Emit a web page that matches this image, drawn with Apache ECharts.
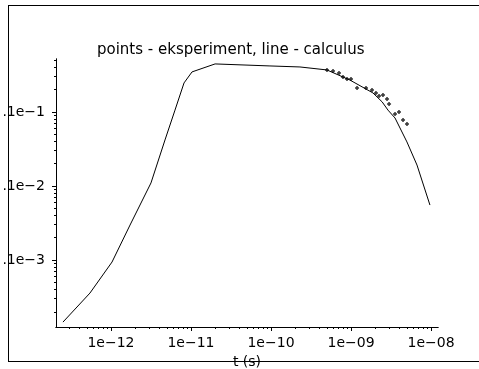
<!DOCTYPE html>
<html>
<head>
<meta charset="utf-8">
<script src="https://cdn.jsdelivr.net/npm/echarts@6/dist/echarts.min.js"></script>
<style>
  html, body { margin: 0; padding: 0; background: #fff; }
  #chart { width: 479px; height: 369px; }
</style>
</head>
<body>
<div id="chart"></div>
<script>
// Calculated curve: time (s) and value
const curveT = [2.51e-13, 5.46e-13, 1.03e-12, 1.73e-12, 3.16e-12, 4.73e-12, 6.31e-12, 8.18e-12,
  1.03e-11, 2.0e-11, 9.7e-11, 2.30e-10, 5.0e-10, 9.7e-10, 1.88e-9, 2.45e-9, 2.90e-9, 3.55e-9,
  5.0e-9, 6.68e-9, 9.7e-9];
const curveY = [1.45e-5, 3.58e-5, 9.4e-5, 2.97e-4, 1.10e-3, 4.19e-3, 1.06e-2, 2.47e-2,
  3.48e-2, 4.46e-2, 4.19e-2, 4.06e-2, 3.70e-2, 2.70e-2, 1.81e-2, 1.37e-2, 1.06e-2, 8.3e-3,
  3.94e-3, 1.92e-3, 5.53e-4];

// Measured points
const expT = [5.01e-10, 5.96e-10, 7.08e-10, 7.94e-10, 8.91e-10, 1.0e-9, 1.19e-9, 1.54e-9,
  1.83e-9, 2.05e-9, 2.24e-9, 2.51e-9, 2.82e-9, 2.99e-9, 3.55e-9, 3.98e-9, 4.47e-9, 5.01e-9];
const expY = [3.70e-2, 3.58e-2, 3.37e-2, 2.97e-2, 2.79e-2, 2.79e-2, 2.11e-2, 2.11e-2,
  1.98e-2, 1.81e-2, 1.64e-2, 1.70e-2, 1.50e-2, 1.28e-2, 9.4e-3, 1.0e-2, 7.8e-3, 6.9e-3];

// Axis ranges and decade ticks
const xRange = [2.054e-13, 1.223e-8];
const yRange = [1.245e-5, 5.2e-2];
const xMajor = [1e-12, 1e-11, 1e-10, 1e-9, 1e-8];
const yMajor = [1e-2, 1e-3, 1e-4];
const xLabels = ['1e\u221212', '1e\u221211', '1e\u221210', '1e\u221209', '1e\u221208'];
const yLabels = ['.1e\u22121', '.1e\u22122', '.1e\u22123'];
const titleText = 'points - eksperiment, line - calculus';
const xName = 't (s)';

function minorValues(range, k0, k1) {
  const out = [];
  for (let k = k0; k <= k1; k++) {
    for (let m = 2; m <= 9; m++) {
      const v = m * Math.pow(10, k);
      if (v >= range[0] && v <= range[1]) out.push(v);
    }
  }
  return out;
}
const xMinor = minorValues(xRange, -13, -8);
const yMinor = minorValues(yRange, -5, -2);

const FONT = 'DejaVu Sans';
const labelText = (vals, labels) => (v) => {
  const e = Math.round(Math.log10(v));
  const i = vals.findIndex(t => Math.round(Math.log10(t)) === e);
  return i >= 0 ? labels[i] : '';
};

const chart = echarts.init(document.getElementById('chart'), null, { renderer: 'canvas' });

const baseAxis = {
  type: 'log',
  logBase: 10,
  splitLine: { show: false },
  minorTick: { show: false },
  minorSplitLine: { show: false }
};

chart.setOption({
  animation: false,
  backgroundColor: '#fff',
  title: {
    text: titleText,
    left: 97,
    top: 43,
    padding: 0,
    textStyle: { fontFamily: FONT, fontSize: 15, fontWeight: 'normal', color: '#000' }
  },
  grid: { left: 56, right: 41, top: 59, bottom: 42, containLabel: false, outerBoundsMode: 'none' },
  xAxis: [
    Object.assign({}, baseAxis, {
      min: xRange[0], max: xRange[1],
      position: 'bottom',
      name: xName,
      nameLocation: 'middle',
      nameGap: 25,
      nameTextStyle: { fontFamily: FONT, fontSize: 14, color: '#000' },
      axisLine: { show: true, lineStyle: { color: '#000', width: 1 } },
      axisTick: { show: true, length: 4, customValues: xMajor, lineStyle: { color: '#000' } },
      axisLabel: {
        show: true, customValues: xMajor, margin: 9,
        fontFamily: FONT, fontSize: 14, color: '#000',
        formatter: labelText(xMajor, xLabels)
      }
    }),
    Object.assign({}, baseAxis, {
      min: xRange[0], max: xRange[1],
      position: 'bottom',
      axisLine: { show: true, lineStyle: { color: '#000', width: 1 } },
      axisTick: { show: true, length: 2, customValues: xMinor, lineStyle: { color: '#000' } },
      axisLabel: { show: false }
    })
  ],
  yAxis: [
    Object.assign({}, baseAxis, {
      min: yRange[0], max: yRange[1],
      position: 'left',
      axisLine: { show: true, lineStyle: { color: '#000', width: 1 } },
      axisTick: { show: true, length: 4, customValues: yMajor, lineStyle: { color: '#000' } },
      axisLabel: {
        show: true, customValues: yMajor, margin: 11,
        fontFamily: FONT, fontSize: 14, color: '#000',
        formatter: labelText(yMajor, yLabels)
      }
    }),
    Object.assign({}, baseAxis, {
      min: yRange[0], max: yRange[1],
      position: 'left',
      axisLine: { show: true, lineStyle: { color: '#000', width: 1 } },
      axisTick: { show: true, length: 2, customValues: yMinor, lineStyle: { color: '#000' } },
      axisLabel: { show: false }
    })
  ],
  series: [
    {
      name: 'calculus',
      type: 'line',
      xAxisIndex: 0, yAxisIndex: 0,
      data: curveT.map((t, i) => [t, curveY[i]]),
      showSymbol: false,
      symbol: 'none',
      smooth: false,
      lineStyle: { color: '#000', width: 1 },
      z: 2
    },
    {
      name: 'eksperiment',
      type: 'scatter',
      xAxisIndex: 0, yAxisIndex: 0,
      data: expT.map((t, i) => [t, expY[i]]),
      symbol: 'path://M1.25,0H2.75V1.25H4V2.75H2.75V4H1.25V2.75H0V1.25H1.25Z',
      symbolSize: 4,
      itemStyle: { color: '#000' },
      z: 3
    }
  ],
  graphic: [
    { type: 'line', z: 100, shape: { x1: 8, y1: 5.5, x2: 479, y2: 5.5 }, style: { stroke: '#000', lineWidth: 1 } },
    { type: 'line', z: 100, shape: { x1: 8.5, y1: 5, x2: 8.5, y2: 362 }, style: { stroke: '#000', lineWidth: 1 } },
    { type: 'line', z: 100, shape: { x1: 8, y1: 361.5, x2: 479, y2: 361.5 }, style: { stroke: '#000', lineWidth: 1 } }
  ]
});
</script>
</body>
</html>
